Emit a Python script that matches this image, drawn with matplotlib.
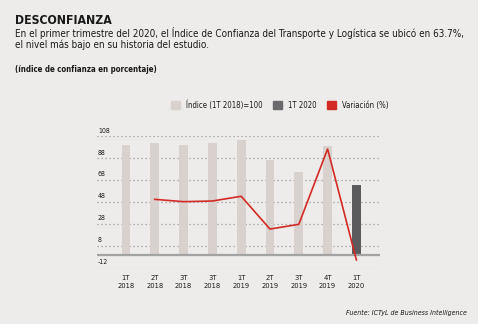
import matplotlib
matplotlib.use("Agg")
import matplotlib.pyplot as plt
import matplotlib.transforms as mtransforms
from matplotlib.patches import Patch
from matplotlib import font_manager

# Data
quarters = ["1T\n2018", "2T\n2018", "3T\n2018", "3T\n2018", "1T\n2019",
            "2T\n2019", "3T\n2019", "4T\n2019", "1T\n2020"]
indice = [100.0, 101.5, 100.0, 101.5, 104.5, 86.5, 75.5, 99.0, 63.7]
variacion = [None, 50.4, 48.3, 48.9, 53.2, 23.4, 27.7, 96.2, -4.7]
yticks = [108, 88, 68, 48, 28, 8, -12]

# prefer a narrow face when one is available
narrow = [f for f in font_manager.fontManager.ttflist
          if f.stretch in ("condensed", "semi-condensed", "extra-condensed")
          or "Narrow" in f.name or "Condensed" in f.name]
if narrow:
    base, stretch = narrow[0].name, narrow[0].stretch
else:
    base, stretch = "Liberation Sans", "normal"
plt.rcParams["font.family"] = [base, "DejaVu Sans"]
plt.rcParams["font.stretch"] = stretch

BG = "#edecea"
LIGHT = "#d9d1cd"
DARK = "#5b5b5d"
RED = "#d42a25"
GRID = "#9a9a9a"
TXT = "#1a1a1a"

W, H = 478, 324
fig = plt.figure(figsize=(W / 100, H / 100), dpi=100, facecolor=BG)
renderer = fig.canvas.get_renderer()


def fit(t, width_px):
    """Rescale a text so its rendered width is width_px."""
    w = t.get_window_extent(renderer).width
    t.set_fontsize(t.get_fontsize() * width_px / w)
    return t


# axes placement in pixels
x0_px, x1_px = 97, 380
ytop_px, ybot_px = 136, 268
ax = fig.add_axes([x0_px / W, (H - ybot_px) / H, (x1_px - x0_px) / W, (ybot_px - ytop_px) / H])
ax.set_facecolor(BG)
for s in ax.spines.values():
    s.set_visible(False)
ax.set_xticks([])
ax.set_yticks([])

c0, step = 126, 28.8
ax.set_xlim((x0_px - c0) / step, (x1_px - c0) / step)
ax.set_ylim(yticks[-1], yticks[0])

# gridlines
for v in yticks:
    ax.axhline(v, color=GRID, lw=0.9, ls=(0, (1, 2.2)), zorder=1)
ax.axhline(0, color="#a3a3a3", lw=1.6, zorder=3)

xs = list(range(len(quarters)))
colors = [LIGHT] * (len(xs) - 1) + [DARK]
ax.bar(xs, indice, width=0.31, color=colors, zorder=2)

lx = [x for x, v in zip(xs, variacion) if v is not None]
ly = [v for v in variacion if v is not None]
ax.plot(lx, ly, color=RED, lw=1.2, zorder=4, clip_on=False)

# y labels sitting just above their gridlines
off = mtransforms.offset_copy(ax.transData, fig=fig, x=0, y=2.5, units="dots")
xl = (98 - c0) / step
ylabs = [ax.text(xl, v, str(v), transform=off, fontsize=5.2, color=TXT, ha="left", va="bottom")
         for v in yticks]
s108 = fit(ylabs[0], 12).get_fontsize()
for t in ylabs:
    t.set_fontsize(s108)

# x labels
xt = mtransforms.blended_transform_factory(ax.transData, fig.transFigure)
xlabs = [ax.text(x, 1 - 282 / H, q, transform=xt, fontsize=6.2, color=TXT,
                 ha="center", va="center", linespacing=1.35) for x, q in zip(xs, quarters)]
sx = fit(xlabs[0], 17).get_fontsize()
for t in xlabs:
    t.set_fontsize(sx)

# titles
fit(fig.text(15 / W, 1 - 20 / H, "DESCONFIANZA", fontsize=10.5, fontweight="bold", color=TXT,
             ha="left", va="center"), 98)
l1 = "En el primer trimestre del 2020, el Índice de Confianza del Transporte y Logística se ubicó en 63.7%,"
sub = fig.text(15 / W, 1 - 33 / H, l1, fontsize=8.3, color=TXT, ha="left", va="center")
fit(sub, 447)
fig.text(15 / W, 1 - 45 / H, "el nivel más bajo en su historia del estudio.",
         fontsize=sub.get_fontsize(), color=TXT, ha="left", va="center")
fit(fig.text(15 / W, 1 - 69 / H, "(índice de confianza en porcentaje)", fontsize=6.3,
             fontweight="bold", color=TXT, ha="left", va="center"), 142)

# legend
handles = [Patch(color=LIGHT, label="Índice (1T 2018)=100"),
           Patch(color="#6a6a6c", label="1T 2020"),
           Patch(color=RED, label="Variación (%)")]
probe = fig.text(0, 0, "Índice (1T 2018)=100", fontsize=6)
ls = fit(probe, 76).get_fontsize()
probe.remove()
fig.legend(handles=handles, loc="center", bbox_to_anchor=(280 / W, 1 - 105 / H), ncol=3,
           frameon=False, fontsize=ls, handlelength=1.1, handleheight=1.1, handletextpad=0.8,
           columnspacing=1.4, labelcolor=TXT)

fit(fig.text(467 / W, 1 - 313 / H, "Fuente: ICTyL de Business Intelligence", fontsize=6.2,
             style="italic", color=TXT, ha="right", va="center"), 121)

fig.savefig("out.png", dpi=100, facecolor=BG)
